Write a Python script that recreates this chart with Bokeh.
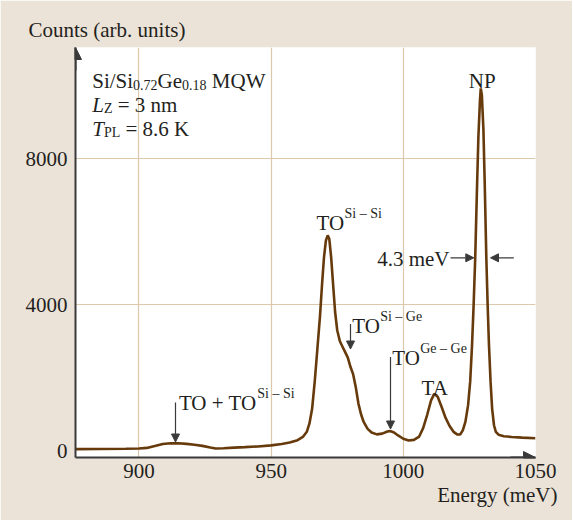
from bokeh.plotting import figure
from bokeh.models import Range1d, FixedTicker, Label, Arrow, NormalHead, Title
from bokeh.embed import file_html
from bokeh.resources import INLINE

# ---- data ----
energy = [876, 885, 895, 900, 903, 906, 909, 912, 915, 918, 921, 924, 927, 929,
          932, 936, 940, 945, 950, 954, 957, 960, 962, 963.5, 964.5, 965.5, 966.5,
          967.5, 968.5, 969.3, 970, 970.7, 971.4, 972, 972.7, 973.4, 974.2, 975,
          976, 977, 978, 979, 980, 981, 982, 983, 984, 985, 986.5, 988, 990, 992,
          994, 995, 996.5, 998, 1000, 1002, 1004, 1006, 1007.5, 1009, 1010.5,
          1011.7, 1013, 1014.5, 1016, 1017.5, 1019, 1020.5, 1021.5, 1022.5, 1023.5,
          1024.5, 1025.3, 1026, 1026.6, 1027.2, 1027.8, 1028.4, 1029, 1029.3,
          1029.7, 1030.3, 1030.8, 1031.4, 1031.9, 1032.4, 1033, 1033.6, 1034.3,
          1035, 1036, 1038, 1041, 1045, 1050]
counts = [45, 48, 55, 62, 80, 130, 185, 205, 205, 190, 165, 135, 90, 65,
          72, 88, 100, 120, 150, 185, 225, 290, 380, 520, 750, 1150, 1900,
          2800, 3700, 4600, 5300, 5750, 5900, 5800, 5300, 4600, 3800, 3300,
          3000, 2850, 2700, 2550, 2300, 2100, 1750, 1300, 1000, 790, 600, 500, 450, 470,
          530, 540, 500, 420, 330, 280, 300, 390, 620, 980, 1380,
          1560, 1480, 1200, 900, 680, 520, 445, 445, 560, 800,
          1250, 1900, 2900, 4000, 5280, 7000, 8600, 9600, 9920,
          9750, 8800, 7300, 5280, 4000, 2900, 1900, 1150, 700,
          520, 440, 400, 380, 360, 345]
x_ticks = [900, 950, 1000, 1050]
x_grid = [900, 950, 1000]
y_ticks = [0, 4000, 8000]
y_grid = [4000, 8000]

X0, X1 = 876, 1050
Y0, Y1 = -183, 11041

BEIGE = "#ECE3D8"
GRID = "#DDC8AB"
CURVE = "#673A0C"
AXIS = "#3A3A3A"
TXT = "#231F20"
FONT = "Liberation Serif"
FS = 21
SS = 14

WIDTH, HEIGHT = 572, 520
# frame in page pixels
FL, FR, FT, FB = 75, 535, 47, 457
def X(px):
    return X0 + (px - FL) * (X1 - X0) / (FR - FL)
def Y(py):
    return Y0 + (FB - py) * (Y1 - Y0) / (FB - FT)

p = figure(width=WIDTH, height=HEIGHT, x_range=Range1d(X0, X1), y_range=Range1d(Y0, Y1),
           output_backend="svg", toolbar_location=None,
           min_border_left=FL, min_border_right=WIDTH - FR,
           min_border_top=FT, min_border_bottom=HEIGHT - FB)
p.background_fill_color = "white"
p.border_fill_color = BEIGE
p.outline_line_color = None

p.title.text = "Counts (arb. units)"
p.title.align = "left"
p.title.offset = -(FL - 28)
p.title.text_font = FONT
p.title.text_font_size = f"{FS}px"
p.title.text_font_style = "normal"
p.title.text_color = TXT
p.title.standoff = 12

p.add_layout(Title(text="Energy (meV)", align="right", offset=-(557 - FR),
                   text_font=FONT, text_font_size=f"{FS}px", text_font_style="normal",
                   text_color=TXT, standoff=0), "below")

p.xaxis.ticker = FixedTicker(ticks=x_ticks)
p.yaxis.ticker = FixedTicker(ticks=y_ticks)
p.xgrid.ticker = FixedTicker(ticks=x_grid)
p.ygrid.ticker = FixedTicker(ticks=y_grid)
for g in (p.xgrid, p.ygrid):
    g.grid_line_color = GRID
    g.grid_line_width = 1.2
for ax in (p.xaxis, p.yaxis):
    ax.axis_line_color = AXIS
    ax.axis_line_width = 2
    ax.major_tick_line_color = None
    ax.minor_tick_line_color = None
    ax.major_tick_in = 0
    ax.major_tick_out = 0
    ax.major_label_text_font = FONT
    ax.major_label_text_font_size = f"{FS}px"
    ax.major_label_text_color = TXT
p.xaxis.major_label_standoff = 6
p.yaxis.major_label_standoff = 8

p.line(energy, counts, line_color=CURVE, line_width=2.6)

# axis arrows
p.add_layout(Arrow(end=NormalHead(size=12, fill_color=AXIS, line_color=AXIS),
                   x_start=X0, y_start=Y(70), x_end=X0, y_end=Y1,
                   line_color=AXIS, line_width=2))
p.add_layout(Arrow(end=NormalHead(size=12, fill_color=AXIS, line_color=AXIS),
                   x_start=X(510), y_start=Y0, x_end=X1, y_end=Y0,
                   line_color=AXIS, line_width=2))

W = {' ': 250, '(': 333, ')': 333, '+': 564, '.': 250, '/': 278, '=': 564, '–': 500,
     'A': 722, 'C': 667, 'G': 722, 'K': 722, 'L': 611, 'M': 889, 'N': 722, 'O': 722,
     'P': 556, 'Q': 722, 'S': 556, 'T': 611, 'V': 722, 'W': 944, 'Z': 611,
     'a': 444, 'b': 500, 'e': 444, 'g': 500, 'i': 278, 'm': 778, 'n': 500, 'o': 500,
     'r': 333, 's': 389, 't': 278, 'u': 500, 'v': 500, 'y': 500}
WI = {'L': 556, 'T': 556}
def width(s, size, italic=False):
    tot = 0
    for ch in s:
        if ch.isdigit():
            tot += 500
        elif italic and ch in WI:
            tot += WI[ch]
        else:
            tot += W.get(ch, 500)
    return tot * size / 1000.0

def rich(pieces, px, base, align="left"):
    total = 0
    for t, k in pieces:
        total += width(t, SS if k in ("sub", "sup") else FS, k == "i")
    if align == "center":
        px -= total / 2
    elif align == "right":
        px -= total
    for t, k in pieces:
        size = SS if k in ("sub", "sup") else FS
        dy = 4 if k == "sub" else (-9.5 if k == "sup" else 0)
        lead = len(t) - len(t.lstrip(" "))
        px += width(" " * lead, size)
        s = t.lstrip(" ")
        p.add_layout(Label(x=X(px), y=Y(base + dy), text=s, text_font=FONT,
                           text_font_size=f"{size}px", text_color=TXT,
                           text_font_style="italic" if k == "i" else "normal",
                           text_align="left", text_baseline="alphabetic"))
        px += width(s, size, k == "i")

rich([("Si/Si", "n"), ("0.72", "sub"), ("Ge", "n"), ("0.18", "sub"), (" MQW", "n")], 91.7, 80)
rich([("L", "i"), ("Z", "sub"), (" = 3 nm", "n")], 91.7, 104)
rich([("T", "i"), ("PL", "sub"), (" = 8.6 K", "n")], 91.7, 128)
rich([("NP", "n")], 481.7, 80.5, align="center")
rich([("TO", "n"), ("Si – Si", "sup")], 316, 222)
rich([("TO", "n"), ("Si – Ge", "sup")], 351.7, 325)
rich([("TO", "n"), ("Ge – Ge", "sup")], 391.7, 357)
rich([("TA", "n")], 435, 387.5, align="center")
rich([("TO + TO", "n"), ("Si – Si", "sup")], 178.4, 402)
rich([("4.3 meV", "n")], 376.7, 258)

def arrow(x0, y0, x1, y1):
    p.add_layout(Arrow(end=NormalHead(size=8, fill_color=AXIS, line_color=AXIS),
                       x_start=X(x0), y_start=Y(y0), x_end=X(x1), y_end=Y(y1),
                       line_color=AXIS, line_width=1.2))

arrow(175, 402, 175, 441.5)
arrow(350, 323.5, 350, 348.5)
arrow(390, 356.5, 390, 428.5)
arrow(450, 257.3, 473.3, 257.3)
arrow(513.3, 257.3, 490, 257.3)

open("out.html", "w").write(file_html(p, INLINE))
